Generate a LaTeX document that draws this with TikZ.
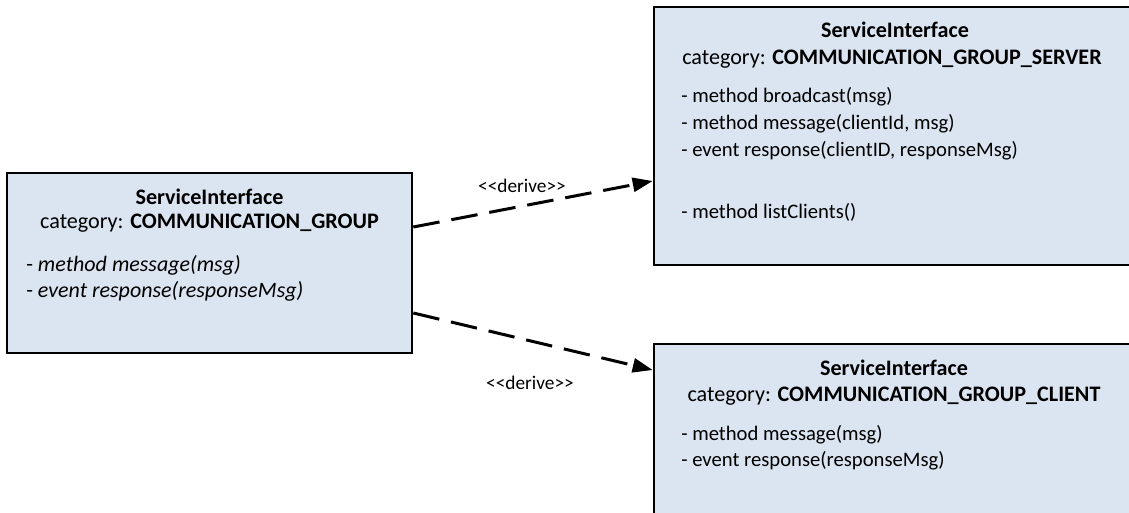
\documentclass[tikz,border=0pt]{standalone}
\usepackage{fontspec}
\setmainfont{Carlito}
\usepackage{xcolor}
\usepackage{tikz}
\usetikzlibrary{arrows.meta}
\definecolor{boxblue}{RGB}{219,229,241}

\tikzset{
  sibox/.style={draw=black,line width=2pt,fill=boxblue,rectangle,inner sep=0pt},
  headtext/.style={anchor=base,inner sep=0pt,font=\fontsize{16.6}{19}\selectfont},
  membtext/.style={anchor=base west,inner sep=0pt,font=\fontsize{15.5}{19}\selectfont},
  derive/.style={->,line width=2.25pt,dash pattern=on 20pt off 9pt},
  derivelabel/.style={anchor=base,inner sep=0pt,font=\fontsize{14.5}{16}\selectfont}
}

\begin{document}
\begin{tikzpicture}[line cap=butt,line join=miter,>={Triangle[length=15pt,width=10.5pt]},x=0.75pt,y=-0.75pt]
			\useasboundingbox (0,0) rectangle (1129,512);
			\clip (0,0) rectangle (1129,512);
			% the three service interfaces
			\node[sibox,minimum width=303.75pt,minimum height=135pt] (group) at (209.5,263) {};
			\node[sibox,minimum width=361.5pt,minimum height=193.5pt] (server) at (895,136) {};
			\node[sibox,minimum width=361.5pt,minimum height=139.5pt] (client) at (895,437) {};
			% derive connectors
			\draw[derive] ([yshift=27pt]group.east) -- ([yshift=-33.75pt]server.west);
			\draw[derive] ([yshift=-37.5pt]group.east) -- ([yshift=50.25pt]client.west);
			\node[derivelabel] (derivetop) at (522,192) {<{}<derive>{}>};
			\node[derivelabel] (derivebot) at (530,389) {<{}<derive>{}>};
			% group
			\node[headtext] (grouptitle) at (209.5,204) {\textbf{ServiceInterface}};
			\node[headtext] (groupcat) at (209.5,228.5) {category: \textbf{COMMUNICATION\_GROUP}};
			\node[membtext,font=\fontsize{16.5}{19}\selectfont] (groupm1) at (26,271) {- \textit{method message(msg)}};
			\node[membtext,font=\fontsize{16.5}{19}\selectfont] (groupm2) at (26,297.5) {- \textit{event response(responseMsg)}};
			% server
			\node[headtext] (servertitle) at (895,37.3) {\textbf{ServiceInterface}};
			\node[headtext] (servercat) at (892,64) {category: \textbf{COMMUNICATION\_GROUP\_SERVER}};
			\node[membtext] (serverm1) at (681,102.7) {- method broadcast(msg)};
			\node[membtext] (serverm2) at (681,129.3) {- method message(clientId, msg)};
			\node[membtext] (serverm3) at (681,156.7) {- event response(clientID, responseMsg)};
			\node[membtext] (serverm4) at (681,218.3) {- method listClients()};
			% client
			\node[headtext] (clienttitle) at (894,375) {\textbf{ServiceInterface}};
			\node[headtext] (clientcat) at (894,401.7) {category: \textbf{COMMUNICATION\_GROUP\_CLIENT}};
			\node[membtext] (clientm1) at (681,440) {- method message(msg)};
			\node[membtext] (clientm2) at (681,466) {- event response(responseMsg)};
\end{tikzpicture}
\end{document}
